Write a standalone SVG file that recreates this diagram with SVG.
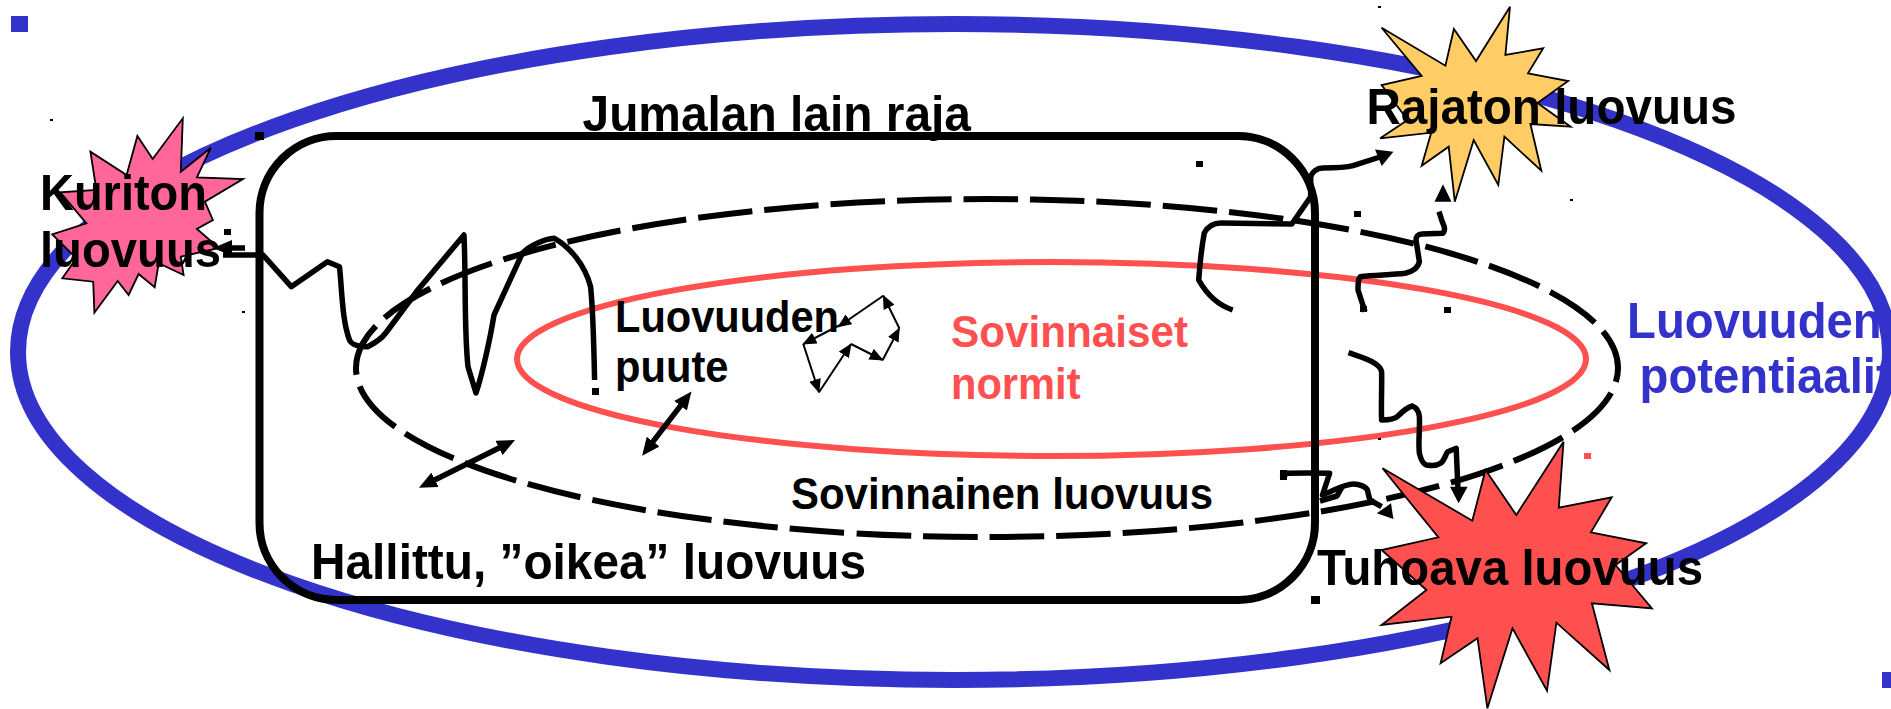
<svg xmlns="http://www.w3.org/2000/svg" width="1891" height="709" viewBox="0 0 1891 709">
<style>
text{font-family:"Liberation Sans",Arial,sans-serif;font-weight:700;fill:#000}
.t48{font-size:50.5px}.t42{font-size:44.5px}
.tb{font-size:47.3px}
.blue{fill:#3333cc}.red{fill:#ff5050}
.sq{fill:#000;stroke:none}
.star{stroke:#000;stroke-width:1.8;stroke-linejoin:miter}
.sq-line{fill:none;stroke:#000;stroke-width:5.5;stroke-linejoin:round;stroke-linecap:butt}
.thin{fill:none;stroke:#000;stroke-width:2}
</style>
<defs>
<marker id="big" markerUnits="userSpaceOnUse" markerWidth="20" markerHeight="18" refX="9" refY="8" orient="auto-start-reverse"><path d="M0,0L18,8L0,16z" fill="#000"/></marker>
<marker id="sm" markerUnits="userSpaceOnUse" markerWidth="15" markerHeight="12" refX="13" refY="6" orient="auto"><path d="M0,0L14,6L0,12z" fill="#000"/></marker>
</defs>
<g id="potential-ellipse"><ellipse cx="954" cy="352" rx="936" ry="328" fill="none" stroke="#3333cc" stroke-width="16"/>
<rect x="11" y="16" width="17" height="16" fill="#3333cc"/><rect x="1882" y="672" width="9" height="16" fill="#3333cc"/></g>
<g id="norm-ellipse"><ellipse cx="1051.5" cy="359" rx="534.5" ry="97" fill="none" stroke="#ff5050" stroke-width="6"/><rect x="1584" y="453" width="7" height="6" fill="#ff5050"/></g>
<g id="conventional-ellipse"><path d="M850,533A631,169 0 1 1 1618,368A631,169 0 0 1 850,533" fill="none" stroke="#000" stroke-width="6" stroke-dasharray="54.5 12" stroke-dashoffset="60.5"/></g>
<g id="law-boundary"><rect x="259.5" y="136" width="1055.5" height="464" rx="77" ry="77" fill="none" stroke="#000" stroke-width="8"/>
<rect class="sq" x="255" y="132" width="9" height="8"/><rect class="sq" x="1311" y="596" width="9" height="8"/></g>
<g id="star-kuriton"><polygon class="star" fill="#ff6699" points="182.8,118.3 180.8,171.7 210.9,147.7 196.9,177.3 243,179 204.9,201.7 212.9,220 196.9,229 219,248 180.8,256.7 183.6,275 158.7,263.3 154.7,287.3 138.6,274 128.6,295 117.7,281 94.4,312.7 93.2,281.7 62.3,278.3 76.3,258.3 52.2,234.3 86.4,223.3 60.3,192.3 96.4,190 90.4,151.7 126.6,175 137.4,136 152.7,159"/>
<text class="t48" x="40" y="210" textLength="167" lengthAdjust="spacingAndGlyphs">Kuriton</text><text class="t48" x="40" y="267" textLength="181" lengthAdjust="spacingAndGlyphs">luovuus</text></g>
<g id="star-rajaton"><polygon class="star" fill="#ffcc66" points="1510,6.7 1505.4,55 1543.2,48.3 1528,73.3 1568.2,81 1537.5,103 1570.6,126.7 1530.4,124 1541.3,170.7 1504.4,136.7 1498.3,185 1473.7,140 1454.8,201.7 1448.7,146.7 1421.7,165.7 1431.2,132.7 1380.2,138.3 1407.6,120 1381.6,85 1421.7,76 1381.6,27.7 1445.4,65.7 1453.9,29 1476,61"/>
<text class="t48" x="1366.5" y="124" textLength="370" lengthAdjust="spacingAndGlyphs">Rajaton luovuus</text></g>
<g id="star-tuhoava"><polygon class="star" fill="#ff5050" points="1563.5,441.7 1558.8,507.7 1611.7,497.3 1590.9,532.3 1646.2,543.3 1615.5,565 1651.9,608.3 1591.9,603.3 1609.4,670 1556.4,622.7 1547,690.7 1512.5,628.3 1487.4,708.3 1477.5,638.3 1440.6,663.3 1451.5,616.7 1381.6,625 1426.5,590 1381.6,550 1438.3,537.3 1382.5,468.3 1472.3,520.7 1485.5,470 1516.3,515"/>
<text class="t48" x="1317" y="585" textLength="386" lengthAdjust="spacingAndGlyphs">Tuhoava luovuus</text></g>
<g id="label-jumala"><text class="t48" x="582.5" y="130.5" textLength="388.5" lengthAdjust="spacingAndGlyphs">Jumalan lain raja</text></g>
<g id="label-potentiaali"><text class="tb blue" transform="translate(1627,338) scale(1,1.06)">Luovuuden</text><text class="tb blue" transform="translate(1639.5,393) scale(1,1.06)">potentiaalit</text></g>
<g id="label-normit"><text class="t42 red" x="951" y="347" textLength="237" lengthAdjust="spacingAndGlyphs">Sovinnaiset</text><text class="t42 red" x="951" y="399" textLength="129.5" lengthAdjust="spacingAndGlyphs">normit</text></g>
<g id="label-puute"><text class="t42" x="615" y="332" textLength="224" lengthAdjust="spacingAndGlyphs">Luovuuden</text><text class="t42" x="615" y="382" textLength="113.5" lengthAdjust="spacingAndGlyphs">puute</text></g>
<g id="label-sovinnainen"><text class="t42" x="791" y="509" textLength="422" lengthAdjust="spacingAndGlyphs">Sovinnainen luovuus</text></g>
<g id="label-hallittu"><text class="t48" x="311" y="578.5" textLength="555" lengthAdjust="spacingAndGlyphs">Hallittu, ”oikea” luovuus</text></g>
<g id="connectors">
<path class="sq-line" d="M245,248L228,248"/><polygon points="213,248 232,240 232,256"/>
<path class="sq-line" d="M223,255L263,255L291.3,286.7L327.4,261.7L339.5,266.7C342,290 342,320 349.5,340C352,346 362,347 367.6,346.7C375,343 382,338 385.7,333L417.8,290L464,235C466,280 464,330 468,366.7L476,393C482,375 490,340 494,315L522.3,253.3C530,245 545,239 554.4,238.3C570,247 585,265 590.6,286.7C593,310 594,350 594.6,380"/>
<path class="sq-line" d="M1232.7,310C1218,305 1206,293 1198.7,280C1200,262 1202,245 1204.3,233C1208,226 1214,223 1221,223L1291.8,224L1310.7,196.7L1310.7,176.7C1312,172 1317,168 1322.5,168C1335,168 1345,168 1353,165.7L1380,157" />
<polygon points="1393.4,151.7 1375,149.5 1381.7,166"/>
<path class="sq-line" d="M1365,311.7L1358,290C1358,284 1358,279 1360.3,276.7C1375,275 1390,275 1405.2,273.3C1412,272 1418,268 1419.4,261.7L1416,240C1416,237 1418,234 1421.7,234L1443,233.3C1446,229 1444,226 1442,221L1439,211.7"/>
<polygon points="1443,184.3 1434.5,201.7 1451.5,201.7"/>
<path class="sq-line" d="M1348.5,352.7C1358,356 1366,358 1372,361.7C1378,365 1381,368 1381.6,371.7C1382,385 1381,405 1381.6,420C1390,420 1395,419 1398,416C1402,412 1408,407 1412.3,406C1417,408 1419,412 1419.4,416.7C1420,430 1418,442 1419.4,453.3C1421,460 1423,464 1426.5,465C1432,466 1438,465 1440.6,463.3C1445,460 1446,453 1447.7,451.7L1456.2,448.3L1458,490"/>
<polygon points="1458.6,503.3 1450,486.7 1467.6,486.7"/>
<path class="sq-line" d="M1281.4,478.3L1287,473.3C1300,473 1315,473 1329.6,473.3L1322.5,495C1335,490 1345,484 1353.2,484C1360,484 1366,487 1367.4,490L1369.8,500L1381.6,506.7"/>
<path class="sq-line" d="M1320,501L1337,496L1342,487"/>
<polygon points="1393.4,519 1376.8,513.3 1391,503.3"/>
<rect class="sq" x="1280" y="470" width="7" height="10"/>
<path class="sq-line" marker-start="url(#big)" marker-end="url(#big)" d="M647.6,448.7L686,398.6"/>
<path class="sq-line" marker-start="url(#big)" marker-end="url(#big)" d="M427,483.7L507,444"/>
<path class="thin" marker-end="url(#sm)" d="M883.3,295.7L838.3,326.7"/>
<path class="thin" marker-end="url(#sm)" d="M899.3,328.3L883.3,295.7"/>
<path class="thin" marker-end="url(#sm)" d="M882.7,360L899.3,328.3"/>
<path class="thin" marker-end="url(#sm)" d="M851,344L882.7,360"/>
<path class="thin" marker-end="url(#sm)" d="M819,392.3L851,344"/>
<path class="thin" marker-end="url(#sm)" d="M803.3,344L819,392.3"/>
<path class="thin" marker-end="url(#sm)" d="M840,325L803.3,344"/>
</g>
<g id="handles" class="sq">
<rect x="224" y="229" width="7" height="6"/><rect x="50" y="119" width="3" height="2"/><rect x="242" y="311" width="3" height="2"/>
<rect x="592" y="388" width="7" height="7"/><rect x="1196" y="161" width="7" height="6"/><rect x="1354" y="211" width="7" height="6"/>
<rect x="1444" y="307" width="7" height="6"/><rect x="1360" y="306" width="7" height="6"/><rect x="1378" y="6" width="3" height="2"/>
<rect x="1570" y="199" width="3" height="2"/><rect x="1378" y="438" width="3" height="2"/>
</g>
</svg>
